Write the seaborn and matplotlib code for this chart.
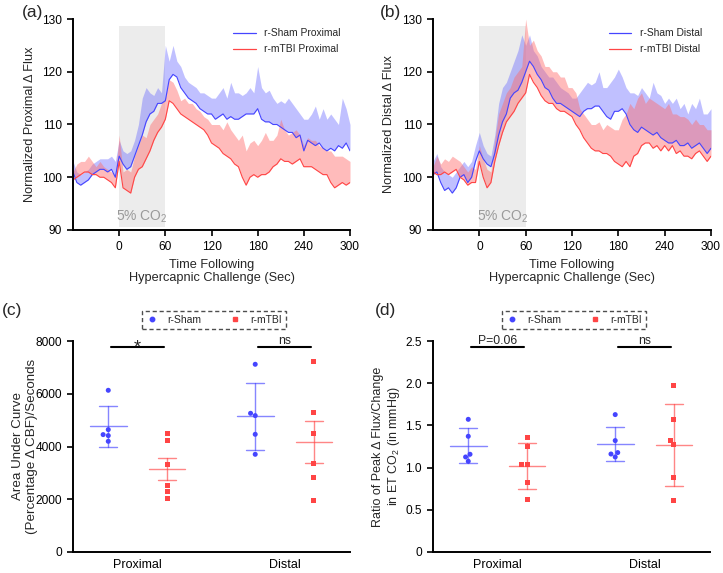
import numpy as np
import pandas as pd
import matplotlib
matplotlib.use("Agg")
import matplotlib.pyplot as plt
from matplotlib.lines import Line2D
from matplotlib.ticker import FuncFormatter
import seaborn as sns

# ---------------- data: time courses (read every 5 s) ----------------
time_s = list(range(-60, 301, 5))

prox_sham_mean = [101, 99, 98.5, 99, 99.5, 100.5, 101, 101.5, 101.5, 101, 101.5, 100,
                  104, 102.5, 101.5, 102, 104, 106, 108, 110.5, 112, 112.5, 114, 114, 114.5,
                  118.5, 119.5, 119, 117, 116, 115, 114.5, 114, 113, 112.5, 112, 112,
                  111, 111.5, 112, 111, 111.5, 111, 111, 111.5, 112, 112, 112, 113,
                  111, 110.5, 110.5, 110, 110, 109.5, 109, 108.5, 108.5, 107.5, 108, 105,
                  107, 106.5, 106, 106.5, 105.5, 105, 105.5, 105, 106, 105.5, 106.5, 105]
prox_sham_upper = [103, 101, 100.5, 101, 101.5, 102.5, 103, 103.5, 103.5, 103.5, 104, 103,
                   107, 105, 104.5, 105, 107, 110, 115, 117, 116, 115.5, 117, 116, 125,
                   122, 125, 122, 121, 119, 118, 117.5, 117, 116, 116, 115.5, 115,
                   115, 116, 117, 115, 118, 116, 116, 115.5, 116, 117, 116, 121,
                   117, 116, 116.5, 115, 114, 114.5, 114, 115, 114, 113, 112, 111,
                   111, 112, 113.5, 111, 113, 111, 112, 111, 110, 115, 113, 110]
prox_mtbi_mean = [99.5, 100, 100.5, 101, 101, 100.5, 100.5, 100, 100, 99.5, 99, 98,
                  103, 98, 97.5, 97, 100, 101.5, 102, 103.5, 105, 107, 108.5, 109.5, 111,
                  114.5, 114, 113, 112, 111.5, 111, 110.5, 110, 109.5, 109, 108, 106.5,
                  106, 105.5, 104.5, 104, 103.5, 102.5, 102, 100, 98.5, 100, 100.5, 100,
                  100.5, 100.5, 101, 102, 102.5, 103.5, 103, 103, 102.5, 103, 103.5, 102,
                  102, 102, 101.5, 101, 100.5, 100.5, 99, 98, 98.5, 99, 98.5, 99]
prox_mtbi_upper = [101, 102.5, 103, 103, 104, 103, 102, 103, 102, 101.5, 101, 100.5,
                   108, 101, 101.5, 101, 104, 106, 108, 107.5, 110, 111, 112, 114, 115,
                   118.5, 118, 116.5, 114.5, 115, 114, 114, 113, 112.5, 111.5, 111, 110,
                   110, 110, 109, 110.5, 109, 108, 107, 108, 105, 106.5, 107, 106,
                   107, 108.5, 107, 107, 108, 111, 109, 108, 108.5, 109, 108, 106,
                   107.5, 107, 107, 106, 105.5, 105, 105, 104, 104, 104, 103.5, 103]

dist_sham_mean = [100.5, 101, 99, 97.5, 98, 97, 98, 100, 100.5, 99, 100, 103,
                  105, 103.5, 102.5, 102, 104.5, 108, 110.5, 112, 115, 116, 116.5, 118, 120,
                  122, 121, 119.5, 118.5, 117, 116.5, 115, 114, 114, 113.5, 113, 112.5,
                  112, 111.5, 112.5, 113, 113, 113.5, 113.5, 112.5, 111.5, 111, 112.5, 112.5,
                  113, 112, 110, 109, 108.5, 109.5, 109, 108.5, 108, 108.5, 107.5, 107,
                  106.5, 106.5, 107, 106, 106, 106.5, 105.5, 106, 106.5, 105.5, 104.5, 105.5]
dist_sham_upper = [103, 104.5, 102, 101, 100.5, 100, 101, 102, 103, 102, 103, 106,
                   108.5, 106, 104.5, 104, 108, 114, 117, 118, 120, 122, 124, 127, 125,
                   127, 124, 123, 121, 120, 119, 119, 118, 117, 116.5, 116, 115,
                   115, 116, 117, 118, 117.5, 118, 120, 117, 117, 118, 119, 120.5,
                   119, 117, 116, 116, 115.5, 117, 116, 115, 118, 116, 115.5, 114,
                   115, 114, 115, 113, 114, 112, 114, 113, 115, 112, 112, 113]
dist_mtbi_mean = [101, 100.5, 100.5, 101, 100.5, 101, 101.5, 100, 99.5, 98.5, 99, 99,
                  103, 100, 98, 99, 103, 106, 108.5, 110.5, 111.5, 112.5, 114, 115, 116,
                  119.5, 118, 117, 115.5, 114.5, 114, 114, 113, 112.5, 112.5, 112, 111.5,
                  110, 109, 107.5, 106.5, 105.5, 105, 105, 104.5, 104.5, 104, 103, 102.5,
                  102, 103, 102, 104, 104.5, 106, 106.5, 106.5, 105.5, 106, 105, 106,
                  105, 106, 104.5, 105, 104, 104, 103.5, 104.5, 105, 104, 103, 104]
dist_mtbi_upper = [102, 104, 102.5, 103.5, 103, 104, 103.5, 103, 102, 101, 102, 101.5,
                   106, 103.5, 101.5, 101, 107, 112, 114, 116, 117, 119, 120, 121, 130,
                   125, 126, 124, 123, 121, 121, 120, 120, 119, 119, 117, 117,
                   116, 113, 112, 111, 110, 110, 110.5, 109, 110, 109.5, 109, 109,
                   111, 112, 114, 113, 115, 116, 114, 115, 114.5, 114, 113.5, 113,
                   114, 112, 112, 111.5, 111.5, 111, 110, 111, 110, 110, 109, 109]

# ---------------- data: scatter panels ----------------
regions = ["Proximal", "Distal"]
groups = ["r-Sham", "r-mTBI"]

auc_sham_prox = [6131, 4640, 4451, 4413, 4197]
auc_mtbi_prox = [4500, 4209, 3299, 2517, 2301, 2010]
auc_sham_dist = [7117, 5259, 5171, 4462, 3704]
auc_mtbi_dist = [7230, 5284, 4475, 3350, 2807, 1949]
auc_err_sham = [777, 1270]
auc_err_mtbi = [428, 790]

ratio_sham_prox = [1.572, 1.371, 1.158, 1.126, 1.075]
ratio_mtbi_prox = [1.359, 1.249, 1.036, 1.036, 0.822, 0.621]
ratio_sham_dist = [1.628, 1.320, 1.178, 1.161, 1.126]
ratio_mtbi_dist = [1.975, 1.564, 1.320, 1.272, 0.877, 0.609]
ratio_err_sham = [0.207, 0.204]
ratio_err_mtbi = [0.272, 0.484]

sig_c = ["*", "ns"]
sig_d = ["P=0.06", "ns"]

# ---------------- style ----------------
sns.set_style("ticks")
plt.rcParams["font.family"] = ["Liberation Sans", "DejaVu Sans"]
plt.rcParams["mathtext.fontset"] = "custom"
plt.rcParams["mathtext.rm"] = "Liberation Sans"
plt.rcParams["mathtext.it"] = "Liberation Sans:italic"

BLUE = "#4545ff"
RED = "#ff4545"
BLUE_FILL = "#6a6aff"
RED_FILL = "#ff6a6a"

fig = plt.figure(figsize=(7.23, 5.73), dpi=100)
W, H = 723, 573


def add_ax(l, r, t, b):
    return fig.add_axes([l / W, 1 - b / H, (r - l) / W, (b - t) / H])


ax_a = add_ax(73, 350, 19, 230)
ax_b = add_ax(433, 711, 19, 230)
ax_c = add_ax(73, 350, 341, 552)
ax_d = add_ax(433, 710, 341, 552)


def style_axes(ax):
    sns.despine(ax=ax)
    for s in ("left", "bottom"):
        ax.spines[s].set_linewidth(1.4)
        ax.spines[s].set_color("black")
    ax.tick_params(axis="both", width=1.2, length=4, labelsize=8.6, colors="black", pad=4)


def time_panel(ax, sham_m, sham_u, mtbi_m, mtbi_u, site, letter, lab_x, let_x):
    df = pd.DataFrame({
        "t": time_s * 2,
        "flux": sham_m + mtbi_m,
        "grp": [f"r-Sham {site}"] * len(time_s) + [f"r-mTBI {site}"] * len(time_s),
    })
    ax.axvspan(0, 60, ymin=0.012, ymax=0.968, color="#ececec", zorder=0, lw=0)
    ax.fill_between(time_s, sham_m, sham_u, color=BLUE_FILL, alpha=0.42, lw=0, zorder=1)
    ax.fill_between(time_s, mtbi_m, mtbi_u, color=RED_FILL, alpha=0.45, lw=0, zorder=1)
    sns.lineplot(data=df, x="t", y="flux", hue="grp",
                 palette={f"r-Sham {site}": BLUE, f"r-mTBI {site}": RED},
                 lw=0.8, ax=ax, zorder=2)
    ax.set_xlim(-60, 300)
    ax.set_ylim(90, 130)
    ax.set_xticks([0, 60, 120, 180, 240, 300])
    ax.set_yticks([90, 100, 110, 120, 130])
    ax.set_xlabel("Time Following\nHypercapnic Challenge (Sec)", fontsize=9.2,
                  labelpad=4, linespacing=1.1)
    ax.set_ylabel(f"Normalized {site} \u0394 Flux", fontsize=9.2)
    ax.yaxis.set_label_coords(lab_x, 0.5)
    ax.text(30, 91.0, "5% CO$_2$", ha="center", va="bottom", color="#9a9a9a", fontsize=10)
    style_axes(ax)
    leg = ax.legend(loc="upper right", frameon=False, fontsize=7.4, handlelength=2.2,
                    bbox_to_anchor=(1.0, 1.0), labelspacing=0.6)
    for h in leg.get_lines():
        h.set_linewidth(0.9)
    ax.text(let_x, 1.068, f"({letter})", transform=ax.transAxes, fontsize=12.5,
            ha="left", va="top")


time_panel(ax_a, prox_sham_mean, prox_sham_upper, prox_mtbi_mean, prox_mtbi_upper,
           "Proximal", "a", -0.135, -0.185)
time_panel(ax_b, dist_sham_mean, dist_sham_upper, dist_mtbi_mean, dist_mtbi_upper,
           "Distal", "b", -0.135, -0.19)


def scatter_panel(ax, sham_p, mtbi_p, sham_d, mtbi_d, err_s, err_m, ylim, yticks,
                  ylabel, sigs, sig_y, letter, fmt, lab_x, let_x, lab_fs):
    rows = []
    for reg, vals in (("Proximal", sham_p), ("Distal", sham_d)):
        rows += [("r-Sham", reg, v) for v in vals]
    for reg, vals in (("Proximal", mtbi_p), ("Distal", mtbi_d)):
        rows += [("r-mTBI", reg, v) for v in vals]
    df = pd.DataFrame(rows, columns=["group", "region", "value"])
    pal = {"r-Sham": BLUE, "r-mTBI": RED}
    for g, mk in (("r-Sham", "o"), ("r-mTBI", "s")):
        sns.swarmplot(data=df[df.group == g], x="region", y="value", hue="group",
                      order=regions, hue_order=groups, dodge=True, palette=pal,
                      marker=mk, size=3.6, linewidth=0, ax=ax, legend=False, zorder=3)
    means = df.groupby(["group", "region"])["value"].mean()
    for gi, (g, errs) in enumerate((("r-Sham", err_s), ("r-mTBI", err_m))):
        col = pal[g]
        for ri, reg in enumerate(regions):
            xc = ri + (-0.2 if gi == 0 else 0.2)
            m = means[(g, reg)]
            e = errs[ri]
            ax.plot([xc - 0.125, xc + 0.125], [m, m], color=col, lw=1.0, alpha=0.65, zorder=2)
            ax.plot([xc, xc], [m - e, m + e], color=col, lw=1.0, alpha=0.65, zorder=2)
            for yy in (m - e, m + e):
                ax.plot([xc - 0.062, xc + 0.062], [yy, yy], color=col, lw=1.0, alpha=0.65,
                        zorder=2)
    span = ylim[1] - ylim[0]
    for ri, s in enumerate(sigs):
        ax.plot([ri - 0.18, ri + 0.18], [sig_y, sig_y], color="black", lw=1.5)
        if s == "*":
            ax.text(ri, sig_y - span * 0.024, s, ha="center", va="baseline", fontsize=13)
        else:
            ax.text(ri, sig_y + span * 0.003, s, ha="center", va="bottom", fontsize=8.8)
    ax.set_xlim(-0.44, 1.445)
    ax.set_ylim(*ylim)
    ax.set_yticks(yticks)
    ax.yaxis.set_major_formatter(FuncFormatter(fmt))
    ax.set_xlabel("")
    ax.set_ylabel(ylabel, fontsize=lab_fs, linespacing=1.15)
    ax.yaxis.set_label_coords(lab_x, 0.5)
    style_axes(ax)
    ax.tick_params(axis="x", length=0, pad=5, labelsize=9)
    handles = [
        Line2D([], [], marker="o", ls="", color=BLUE, markersize=3.2, label="r-Sham"),
        Line2D([], [], marker="s", ls="", color=RED, markersize=3.2, label="r-mTBI"),
    ]
    leg = ax.legend(handles=handles, loc="center", bbox_to_anchor=(0.508, 1.1), ncol=2,
                    fontsize=7.5, frameon=True, fancybox=False, handletextpad=0.9,
                    columnspacing=2.6, borderpad=0.35, handlelength=1.2)
    fr = leg.get_frame()
    fr.set_linestyle((0, (3, 2)))
    fr.set_edgecolor("#222222")
    fr.set_linewidth(1.0)
    ax.text(let_x, 1.18, f"({letter})", transform=ax.transAxes, fontsize=12.5,
            ha="left", va="top")


scatter_panel(ax_c, auc_sham_prox, auc_mtbi_prox, auc_sham_dist, auc_mtbi_dist,
              auc_err_sham, auc_err_mtbi, (0, 8000), [0, 2000, 4000, 6000, 8000],
              "Area Under Curve\n(Percentage \u0394 CBF)/Seconds", sig_c, 7760, "c",
              lambda v, p: f"{v:.0f}", -0.128, -0.255, 9.6)
scatter_panel(ax_d, ratio_sham_prox, ratio_mtbi_prox, ratio_sham_dist, ratio_mtbi_dist,
              ratio_err_sham, ratio_err_mtbi, (0, 2.5), [0, 0.5, 1.0, 1.5, 2.0, 2.5],
              "Ratio of Peak \u0394 Flux/Change\nin ET CO$_2$ (in mmHg)", sig_d, 2.425, "d",
              lambda v, p: "0" if v == 0 else f"{v:.1f}", -0.112, -0.21, 9.0)

fig.savefig("out.png", dpi=100)
